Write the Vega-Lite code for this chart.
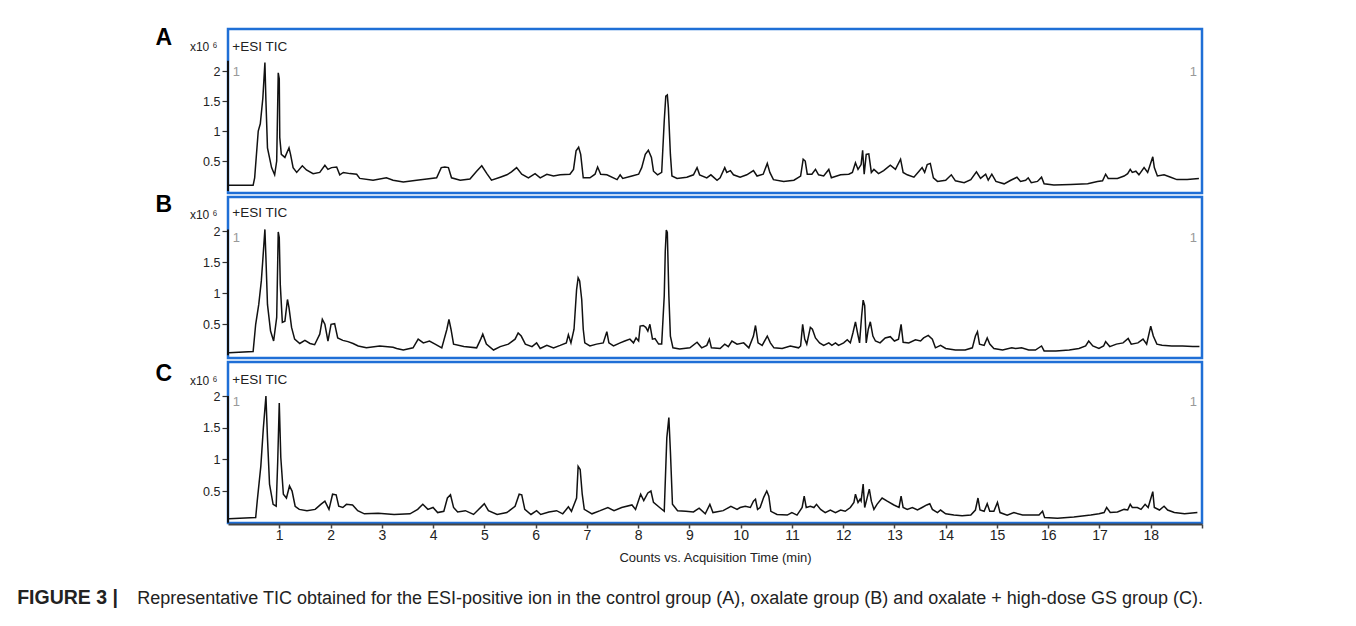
{
"$schema": "https://vega.github.io/schema/vega-lite/v6.json",
"background": "white",
"padding": {"left": 17, "top": 25, "right": 5, "bottom": 5},
"title": {"text": "FIGURE 3 |", "subtitle": "\u200b\u00a0\u00a0\u00a0\u00a0\u00a0\u00a0\u00a0\u00a0\u00a0\u00a0\u00a0\u00a0\u00a0\u00a0\u00a0\u00a0\u00a0\u00a0\u00a0\u00a0\u00a0\u00a0\u00a0\u00a0Representative TIC obtained for the ESI-positive ion in the control group (A), oxalate group (B) and oxalate + high-dose GS group (C).", "orient": "bottom", "anchor": "start", "frame": "bounds", "dx": -137, "font": "Liberation Sans", "fontSize": 19.5, "fontWeight": "bold", "color": "#222", "subtitleFont": "Liberation Sans", "subtitleFontSize": 18, "subtitleColor": "#222", "subtitlePadding": -19, "offset": 24},
"datasets": {
"A": [{"t":0.02,"v":0.095},{"t":0.49,"v":0.095},{"t":0.52,"v":0.22},{"t":0.59,"v":1.0},{"t":0.63,"v":1.12},{"t":0.68,"v":1.55},{"t":0.72,"v":2.14},{"t":0.74,"v":1.5},{"t":0.77,"v":0.72},{"t":0.85,"v":0.39},{"t":0.91,"v":0.27},{"t":0.95,"v":0.5},{"t":0.98,"v":1.97},{"t":1.0,"v":1.87},{"t":1.01,"v":0.89},{"t":1.04,"v":0.61},{"t":1.11,"v":0.56},{"t":1.19,"v":0.72},{"t":1.22,"v":0.61},{"t":1.27,"v":0.39},{"t":1.34,"v":0.31},{"t":1.45,"v":0.42},{"t":1.53,"v":0.35},{"t":1.66,"v":0.29},{"t":1.79,"v":0.31},{"t":1.89,"v":0.43},{"t":1.95,"v":0.36},{"t":2.02,"v":0.39},{"t":2.12,"v":0.4},{"t":2.18,"v":0.27},{"t":2.25,"v":0.31},{"t":2.38,"v":0.29},{"t":2.51,"v":0.28},{"t":2.57,"v":0.21},{"t":2.83,"v":0.18},{"t":3.09,"v":0.22},{"t":3.22,"v":0.18},{"t":3.42,"v":0.15},{"t":3.68,"v":0.18},{"t":3.88,"v":0.2},{"t":4.07,"v":0.22},{"t":4.16,"v":0.39},{"t":4.23,"v":0.4},{"t":4.3,"v":0.39},{"t":4.36,"v":0.22},{"t":4.53,"v":0.18},{"t":4.72,"v":0.2},{"t":4.85,"v":0.33},{"t":4.95,"v":0.42},{"t":5.05,"v":0.29},{"t":5.14,"v":0.18},{"t":5.31,"v":0.23},{"t":5.44,"v":0.27},{"t":5.53,"v":0.32},{"t":5.63,"v":0.39},{"t":5.73,"v":0.28},{"t":5.86,"v":0.22},{"t":5.99,"v":0.29},{"t":6.09,"v":0.22},{"t":6.22,"v":0.28},{"t":6.35,"v":0.25},{"t":6.48,"v":0.27},{"t":6.67,"v":0.28},{"t":6.74,"v":0.36},{"t":6.79,"v":0.67},{"t":6.84,"v":0.73},{"t":6.88,"v":0.61},{"t":6.93,"v":0.22},{"t":7.06,"v":0.22},{"t":7.16,"v":0.28},{"t":7.21,"v":0.4},{"t":7.27,"v":0.28},{"t":7.39,"v":0.27},{"t":7.59,"v":0.19},{"t":7.65,"v":0.27},{"t":7.7,"v":0.21},{"t":7.88,"v":0.25},{"t":8.01,"v":0.28},{"t":8.07,"v":0.39},{"t":8.14,"v":0.61},{"t":8.2,"v":0.68},{"t":8.26,"v":0.56},{"t":8.3,"v":0.33},{"t":8.38,"v":0.27},{"t":8.46,"v":0.31},{"t":8.51,"v":1.17},{"t":8.54,"v":1.58},{"t":8.57,"v":1.6},{"t":8.59,"v":1.39},{"t":8.63,"v":0.61},{"t":8.66,"v":0.25},{"t":8.76,"v":0.21},{"t":8.95,"v":0.23},{"t":9.08,"v":0.27},{"t":9.15,"v":0.39},{"t":9.2,"v":0.27},{"t":9.34,"v":0.22},{"t":9.42,"v":0.27},{"t":9.54,"v":0.18},{"t":9.6,"v":0.22},{"t":9.69,"v":0.39},{"t":9.73,"v":0.31},{"t":9.8,"v":0.34},{"t":9.86,"v":0.27},{"t":9.99,"v":0.23},{"t":10.12,"v":0.27},{"t":10.25,"v":0.34},{"t":10.32,"v":0.25},{"t":10.44,"v":0.28},{"t":10.52,"v":0.46},{"t":10.57,"v":0.31},{"t":10.64,"v":0.19},{"t":10.84,"v":0.16},{"t":11.04,"v":0.18},{"t":11.17,"v":0.25},{"t":11.22,"v":0.53},{"t":11.26,"v":0.5},{"t":11.3,"v":0.28},{"t":11.39,"v":0.28},{"t":11.46,"v":0.36},{"t":11.52,"v":0.27},{"t":11.62,"v":0.25},{"t":11.72,"v":0.36},{"t":11.77,"v":0.22},{"t":11.95,"v":0.27},{"t":12.11,"v":0.28},{"t":12.18,"v":0.31},{"t":12.24,"v":0.47},{"t":12.29,"v":0.36},{"t":12.35,"v":0.44},{"t":12.38,"v":0.68},{"t":12.41,"v":0.28},{"t":12.45,"v":0.61},{"t":12.5,"v":0.62},{"t":12.55,"v":0.31},{"t":12.6,"v":0.36},{"t":12.69,"v":0.29},{"t":12.79,"v":0.34},{"t":12.92,"v":0.43},{"t":13.02,"v":0.36},{"t":13.12,"v":0.53},{"t":13.17,"v":0.31},{"t":13.25,"v":0.27},{"t":13.38,"v":0.23},{"t":13.48,"v":0.33},{"t":13.54,"v":0.39},{"t":13.59,"v":0.31},{"t":13.64,"v":0.44},{"t":13.7,"v":0.46},{"t":13.76,"v":0.22},{"t":13.84,"v":0.16},{"t":14.0,"v":0.18},{"t":14.11,"v":0.27},{"t":14.19,"v":0.17},{"t":14.36,"v":0.14},{"t":14.49,"v":0.19},{"t":14.6,"v":0.32},{"t":14.68,"v":0.21},{"t":14.78,"v":0.28},{"t":14.83,"v":0.18},{"t":14.9,"v":0.28},{"t":14.98,"v":0.16},{"t":15.14,"v":0.12},{"t":15.27,"v":0.18},{"t":15.39,"v":0.23},{"t":15.46,"v":0.16},{"t":15.56,"v":0.18},{"t":15.61,"v":0.22},{"t":15.67,"v":0.14},{"t":15.79,"v":0.16},{"t":15.87,"v":0.23},{"t":15.92,"v":0.12},{"t":16.11,"v":0.1},{"t":16.44,"v":0.11},{"t":16.77,"v":0.12},{"t":16.96,"v":0.16},{"t":17.06,"v":0.17},{"t":17.12,"v":0.28},{"t":17.17,"v":0.21},{"t":17.35,"v":0.21},{"t":17.48,"v":0.25},{"t":17.55,"v":0.29},{"t":17.6,"v":0.36},{"t":17.64,"v":0.31},{"t":17.71,"v":0.33},{"t":17.77,"v":0.27},{"t":17.87,"v":0.39},{"t":17.94,"v":0.31},{"t":18.04,"v":0.57},{"t":18.07,"v":0.39},{"t":18.13,"v":0.25},{"t":18.26,"v":0.27},{"t":18.39,"v":0.23},{"t":18.51,"v":0.19},{"t":18.71,"v":0.19},{"t":18.94,"v":0.21}],
"B": [{"t":0.02,"v":0.04},{"t":0.49,"v":0.06},{"t":0.54,"v":0.5},{"t":0.6,"v":0.82},{"t":0.65,"v":1.2},{"t":0.68,"v":1.55},{"t":0.72,"v":2.03},{"t":0.74,"v":1.57},{"t":0.77,"v":0.82},{"t":0.83,"v":0.39},{"t":0.89,"v":0.23},{"t":0.95,"v":0.61},{"t":0.98,"v":1.99},{"t":1.0,"v":1.9},{"t":1.02,"v":1.14},{"t":1.06,"v":0.53},{"t":1.11,"v":0.55},{"t":1.16,"v":0.9},{"t":1.19,"v":0.77},{"t":1.24,"v":0.45},{"t":1.3,"v":0.26},{"t":1.4,"v":0.19},{"t":1.5,"v":0.24},{"t":1.6,"v":0.19},{"t":1.69,"v":0.17},{"t":1.79,"v":0.34},{"t":1.84,"v":0.58},{"t":1.89,"v":0.5},{"t":1.95,"v":0.23},{"t":2.01,"v":0.5},{"t":2.08,"v":0.51},{"t":2.14,"v":0.28},{"t":2.24,"v":0.24},{"t":2.34,"v":0.22},{"t":2.44,"v":0.19},{"t":2.54,"v":0.15},{"t":2.7,"v":0.12},{"t":2.96,"v":0.15},{"t":3.22,"v":0.13},{"t":3.29,"v":0.11},{"t":3.42,"v":0.085},{"t":3.61,"v":0.12},{"t":3.71,"v":0.26},{"t":3.81,"v":0.2},{"t":3.93,"v":0.23},{"t":4.04,"v":0.18},{"t":4.17,"v":0.12},{"t":4.27,"v":0.42},{"t":4.31,"v":0.58},{"t":4.35,"v":0.42},{"t":4.4,"v":0.18},{"t":4.6,"v":0.14},{"t":4.85,"v":0.12},{"t":4.93,"v":0.26},{"t":4.97,"v":0.34},{"t":5.04,"v":0.18},{"t":5.18,"v":0.085},{"t":5.31,"v":0.14},{"t":5.47,"v":0.18},{"t":5.6,"v":0.26},{"t":5.66,"v":0.36},{"t":5.72,"v":0.31},{"t":5.8,"v":0.18},{"t":5.93,"v":0.14},{"t":6.02,"v":0.2},{"t":6.09,"v":0.11},{"t":6.22,"v":0.16},{"t":6.35,"v":0.12},{"t":6.48,"v":0.16},{"t":6.6,"v":0.2},{"t":6.64,"v":0.33},{"t":6.69,"v":0.2},{"t":6.75,"v":0.42},{"t":6.8,"v":1.06},{"t":6.83,"v":1.25},{"t":6.86,"v":1.2},{"t":6.9,"v":0.9},{"t":6.93,"v":0.42},{"t":6.96,"v":0.2},{"t":7.06,"v":0.15},{"t":7.19,"v":0.18},{"t":7.32,"v":0.2},{"t":7.39,"v":0.38},{"t":7.43,"v":0.2},{"t":7.52,"v":0.15},{"t":7.65,"v":0.2},{"t":7.74,"v":0.23},{"t":7.84,"v":0.26},{"t":7.91,"v":0.2},{"t":7.96,"v":0.28},{"t":8.01,"v":0.23},{"t":8.04,"v":0.47},{"t":8.1,"v":0.48},{"t":8.15,"v":0.45},{"t":8.19,"v":0.39},{"t":8.23,"v":0.5},{"t":8.28,"v":0.26},{"t":8.33,"v":0.27},{"t":8.4,"v":0.18},{"t":8.46,"v":0.18},{"t":8.51,"v":0.96},{"t":8.53,"v":1.68},{"t":8.55,"v":2.02},{"t":8.57,"v":1.98},{"t":8.6,"v":0.96},{"t":8.63,"v":0.31},{"t":8.68,"v":0.12},{"t":8.81,"v":0.1},{"t":9.01,"v":0.12},{"t":9.15,"v":0.21},{"t":9.24,"v":0.12},{"t":9.34,"v":0.16},{"t":9.39,"v":0.26},{"t":9.43,"v":0.12},{"t":9.6,"v":0.11},{"t":9.69,"v":0.18},{"t":9.76,"v":0.14},{"t":9.83,"v":0.23},{"t":9.93,"v":0.18},{"t":10.06,"v":0.2},{"t":10.16,"v":0.12},{"t":10.25,"v":0.31},{"t":10.29,"v":0.48},{"t":10.34,"v":0.2},{"t":10.42,"v":0.16},{"t":10.52,"v":0.31},{"t":10.58,"v":0.2},{"t":10.65,"v":0.12},{"t":10.81,"v":0.11},{"t":10.97,"v":0.15},{"t":11.13,"v":0.12},{"t":11.17,"v":0.15},{"t":11.21,"v":0.5},{"t":11.25,"v":0.26},{"t":11.29,"v":0.18},{"t":11.36,"v":0.45},{"t":11.4,"v":0.42},{"t":11.46,"v":0.28},{"t":11.54,"v":0.2},{"t":11.62,"v":0.16},{"t":11.72,"v":0.2},{"t":11.78,"v":0.16},{"t":11.85,"v":0.2},{"t":11.91,"v":0.16},{"t":12.01,"v":0.2},{"t":12.08,"v":0.25},{"t":12.14,"v":0.2},{"t":12.19,"v":0.36},{"t":12.24,"v":0.54},{"t":12.28,"v":0.36},{"t":12.32,"v":0.2},{"t":12.36,"v":0.63},{"t":12.39,"v":0.89},{"t":12.42,"v":0.8},{"t":12.45,"v":0.2},{"t":12.49,"v":0.42},{"t":12.53,"v":0.54},{"t":12.58,"v":0.31},{"t":12.63,"v":0.23},{"t":12.72,"v":0.2},{"t":12.82,"v":0.28},{"t":12.92,"v":0.3},{"t":13.0,"v":0.23},{"t":13.08,"v":0.26},{"t":13.13,"v":0.5},{"t":13.17,"v":0.21},{"t":13.28,"v":0.2},{"t":13.41,"v":0.25},{"t":13.51,"v":0.23},{"t":13.57,"v":0.28},{"t":13.66,"v":0.32},{"t":13.74,"v":0.26},{"t":13.8,"v":0.12},{"t":13.9,"v":0.16},{"t":14.0,"v":0.11},{"t":14.19,"v":0.085},{"t":14.38,"v":0.085},{"t":14.52,"v":0.12},{"t":14.58,"v":0.31},{"t":14.62,"v":0.38},{"t":14.66,"v":0.18},{"t":14.75,"v":0.16},{"t":14.81,"v":0.28},{"t":14.86,"v":0.18},{"t":14.94,"v":0.11},{"t":15.11,"v":0.085},{"t":15.29,"v":0.12},{"t":15.36,"v":0.11},{"t":15.48,"v":0.12},{"t":15.62,"v":0.085},{"t":15.75,"v":0.085},{"t":15.87,"v":0.15},{"t":15.92,"v":0.07},{"t":16.15,"v":0.07},{"t":16.41,"v":0.085},{"t":16.6,"v":0.11},{"t":16.73,"v":0.15},{"t":16.79,"v":0.23},{"t":16.87,"v":0.15},{"t":16.99,"v":0.11},{"t":17.08,"v":0.15},{"t":17.12,"v":0.22},{"t":17.2,"v":0.14},{"t":17.33,"v":0.18},{"t":17.46,"v":0.2},{"t":17.56,"v":0.27},{"t":17.62,"v":0.18},{"t":17.75,"v":0.2},{"t":17.85,"v":0.26},{"t":17.92,"v":0.18},{"t":18.0,"v":0.47},{"t":18.05,"v":0.31},{"t":18.12,"v":0.18},{"t":18.22,"v":0.16},{"t":18.41,"v":0.15},{"t":18.62,"v":0.15},{"t":18.82,"v":0.14},{"t":18.95,"v":0.14}],
"C": [{"t":0.02,"v":0.063},{"t":0.54,"v":0.08},{"t":0.57,"v":0.34},{"t":0.64,"v":0.89},{"t":0.69,"v":1.5},{"t":0.74,"v":2.0},{"t":0.77,"v":1.34},{"t":0.81,"v":0.61},{"t":0.88,"v":0.29},{"t":0.94,"v":0.26},{"t":0.97,"v":0.97},{"t":1.0,"v":1.89},{"t":1.03,"v":1.03},{"t":1.08,"v":0.45},{"t":1.14,"v":0.39},{"t":1.2,"v":0.58},{"t":1.25,"v":0.5},{"t":1.31,"v":0.26},{"t":1.39,"v":0.21},{"t":1.54,"v":0.19},{"t":1.7,"v":0.21},{"t":1.81,"v":0.29},{"t":1.89,"v":0.34},{"t":1.97,"v":0.21},{"t":2.04,"v":0.45},{"t":2.11,"v":0.44},{"t":2.16,"v":0.26},{"t":2.24,"v":0.24},{"t":2.31,"v":0.29},{"t":2.43,"v":0.28},{"t":2.53,"v":0.19},{"t":2.66,"v":0.14},{"t":2.93,"v":0.15},{"t":3.24,"v":0.13},{"t":3.55,"v":0.14},{"t":3.7,"v":0.21},{"t":3.8,"v":0.29},{"t":3.9,"v":0.21},{"t":4.0,"v":0.24},{"t":4.09,"v":0.16},{"t":4.21,"v":0.18},{"t":4.28,"v":0.39},{"t":4.34,"v":0.44},{"t":4.4,"v":0.24},{"t":4.48,"v":0.17},{"t":4.63,"v":0.19},{"t":4.79,"v":0.13},{"t":4.94,"v":0.25},{"t":5.0,"v":0.3},{"t":5.08,"v":0.19},{"t":5.25,"v":0.13},{"t":5.44,"v":0.16},{"t":5.6,"v":0.26},{"t":5.68,"v":0.45},{"t":5.73,"v":0.44},{"t":5.79,"v":0.21},{"t":5.91,"v":0.13},{"t":6.02,"v":0.19},{"t":6.1,"v":0.13},{"t":6.26,"v":0.17},{"t":6.41,"v":0.19},{"t":6.53,"v":0.14},{"t":6.64,"v":0.25},{"t":6.7,"v":0.18},{"t":6.8,"v":0.39},{"t":6.83,"v":0.89},{"t":6.87,"v":0.84},{"t":6.91,"v":0.45},{"t":6.95,"v":0.21},{"t":7.1,"v":0.14},{"t":7.26,"v":0.19},{"t":7.41,"v":0.24},{"t":7.53,"v":0.19},{"t":7.68,"v":0.24},{"t":7.88,"v":0.28},{"t":7.95,"v":0.21},{"t":8.05,"v":0.45},{"t":8.11,"v":0.35},{"t":8.19,"v":0.47},{"t":8.25,"v":0.5},{"t":8.3,"v":0.32},{"t":8.42,"v":0.24},{"t":8.51,"v":0.18},{"t":8.56,"v":1.34},{"t":8.6,"v":1.66},{"t":8.63,"v":1.13},{"t":8.67,"v":0.29},{"t":8.77,"v":0.19},{"t":8.93,"v":0.18},{"t":9.08,"v":0.17},{"t":9.19,"v":0.23},{"t":9.31,"v":0.14},{"t":9.4,"v":0.29},{"t":9.46,"v":0.16},{"t":9.66,"v":0.19},{"t":9.81,"v":0.26},{"t":9.93,"v":0.21},{"t":9.99,"v":0.24},{"t":10.09,"v":0.26},{"t":10.19,"v":0.24},{"t":10.25,"v":0.34},{"t":10.29,"v":0.37},{"t":10.33,"v":0.21},{"t":10.38,"v":0.24},{"t":10.45,"v":0.4},{"t":10.51,"v":0.5},{"t":10.55,"v":0.42},{"t":10.59,"v":0.18},{"t":10.71,"v":0.13},{"t":10.91,"v":0.12},{"t":11.0,"v":0.16},{"t":11.1,"v":0.12},{"t":11.2,"v":0.24},{"t":11.24,"v":0.42},{"t":11.28,"v":0.24},{"t":11.36,"v":0.26},{"t":11.43,"v":0.24},{"t":11.48,"v":0.29},{"t":11.56,"v":0.21},{"t":11.65,"v":0.16},{"t":11.75,"v":0.2},{"t":11.85,"v":0.16},{"t":11.95,"v":0.2},{"t":12.04,"v":0.18},{"t":12.14,"v":0.24},{"t":12.21,"v":0.32},{"t":12.24,"v":0.45},{"t":12.29,"v":0.32},{"t":12.33,"v":0.37},{"t":12.35,"v":0.34},{"t":12.39,"v":0.61},{"t":12.42,"v":0.24},{"t":12.47,"v":0.4},{"t":12.51,"v":0.53},{"t":12.55,"v":0.34},{"t":12.6,"v":0.21},{"t":12.66,"v":0.29},{"t":12.76,"v":0.39},{"t":12.86,"v":0.34},{"t":12.99,"v":0.28},{"t":13.09,"v":0.24},{"t":13.13,"v":0.42},{"t":13.17,"v":0.24},{"t":13.25,"v":0.21},{"t":13.35,"v":0.24},{"t":13.45,"v":0.2},{"t":13.54,"v":0.24},{"t":13.63,"v":0.28},{"t":13.69,"v":0.3},{"t":13.74,"v":0.21},{"t":13.84,"v":0.16},{"t":13.9,"v":0.2},{"t":14.0,"v":0.14},{"t":14.16,"v":0.12},{"t":14.32,"v":0.11},{"t":14.49,"v":0.12},{"t":14.58,"v":0.2},{"t":14.63,"v":0.39},{"t":14.67,"v":0.2},{"t":14.75,"v":0.18},{"t":14.81,"v":0.3},{"t":14.86,"v":0.18},{"t":14.94,"v":0.18},{"t":15.01,"v":0.32},{"t":15.06,"v":0.16},{"t":15.2,"v":0.12},{"t":15.33,"v":0.16},{"t":15.5,"v":0.12},{"t":15.66,"v":0.12},{"t":15.82,"v":0.12},{"t":15.89,"v":0.18},{"t":15.93,"v":0.08},{"t":16.18,"v":0.07},{"t":16.5,"v":0.09},{"t":16.83,"v":0.12},{"t":16.99,"v":0.14},{"t":17.09,"v":0.16},{"t":17.14,"v":0.24},{"t":17.21,"v":0.16},{"t":17.35,"v":0.17},{"t":17.48,"v":0.21},{"t":17.55,"v":0.2},{"t":17.6,"v":0.29},{"t":17.64,"v":0.24},{"t":17.74,"v":0.24},{"t":17.81,"v":0.21},{"t":17.89,"v":0.29},{"t":17.95,"v":0.24},{"t":18.04,"v":0.49},{"t":18.07,"v":0.24},{"t":18.17,"v":0.2},{"t":18.26,"v":0.26},{"t":18.33,"v":0.2},{"t":18.46,"v":0.16},{"t":18.66,"v":0.14},{"t":18.91,"v":0.16}]
},
"spacing": 4,
"bounds": "flush",
"resolve": {"scale": {"x": "independent", "y": "independent"}},
"vconcat": [
{"width": 974, "height": 164,
 "layer": [
  {"data": {"name": "A"}, "mark": {"type": "line", "color": "#111", "strokeWidth": 1.5},
   "encoding": {
    "x": {"field": "t", "type": "quantitative", "scale": {"domain": [0, 19], "nice": false, "zero": false}, "axis": null},
    "y": {"field": "v", "type": "quantitative", "scale": {"domain": [-0.033, 2.7], "nice": false, "zero": false},
      "axis": {"values": [0.5, 1, 1.5, 2], "format": "~g", "title": "x10 \u2076", "titleAngle": 0, "titleAlign": "right", "titleBaseline": "middle", "titleX": -11, "titleY": 17.5, "titleFont": "Liberation Sans", "titleFontSize": 12, "titleFontWeight": "normal", "titleColor": "#222", "domain": false, "grid": false, "tickSize": 6, "tickColor": "#333", "tickWidth": 1.2, "labelFont": "Liberation Sans", "labelFontSize": 12.5, "labelColor": "#222", "labelPadding": 2}}}},
  {"data": {"values": [{}]}, "mark": {"type": "rule", "color": "#111", "strokeWidth": 2}, "encoding": {"x": {"datum": 0}, "y": {"datum": 0.0}, "y2": {"datum": 2.17}}},
  {"data": {"values": [{}]}, "mark": {"type": "text", "font": "Liberation Sans", "fontWeight": "bold", "fontSize": 23, "align": "center", "baseline": "middle", "color": "#000"}, "encoding": {"x": {"datum": -1.254}, "y": {"datum": 2.555}, "text": {"value": "A"}}},
  {"data": {"values": [{}]}, "mark": {"type": "text", "font": "Liberation Sans", "fontSize": 13.5, "align": "left", "baseline": "middle", "color": "#222"}, "encoding": {"x": {"datum": 0.085}, "y": {"datum": 2.405}, "text": {"value": "+ESI TIC"}}},
  {"data": {"values": [{}]}, "mark": {"type": "text", "font": "Liberation Sans", "fontSize": 13, "align": "center", "baseline": "middle", "color": "#999"}, "encoding": {"x": {"datum": 0.164}, "y": {"datum": 1.99}, "text": {"value": "1"}}},
  {"data": {"values": [{}]}, "mark": {"type": "text", "font": "Liberation Sans", "fontSize": 13, "align": "center", "baseline": "middle", "color": "#999"}, "encoding": {"x": {"datum": 18.83}, "y": {"datum": 1.99}, "text": {"value": "1"}}}
 ]},
{"width": 974, "height": 161,
 "layer": [
  {"data": {"name": "B"}, "mark": {"type": "line", "color": "#111", "strokeWidth": 1.5},
   "encoding": {
    "x": {"field": "t", "type": "quantitative", "scale": {"domain": [0, 19], "nice": false, "zero": false}, "axis": null},
    "y": {"field": "v", "type": "quantitative", "scale": {"domain": [-0.044, 2.553], "nice": false, "zero": false},
      "axis": {"values": [0.5, 1, 1.5, 2], "format": "~g", "title": "x10 \u2076", "titleAngle": 0, "titleAlign": "right", "titleBaseline": "middle", "titleX": -11, "titleY": 17.7, "titleFont": "Liberation Sans", "titleFontSize": 12, "titleFontWeight": "normal", "titleColor": "#222", "domain": false, "grid": false, "tickSize": 6, "tickColor": "#333", "tickWidth": 1.2, "labelFont": "Liberation Sans", "labelFontSize": 12.5, "labelColor": "#222", "labelPadding": 2}}}},
  {"data": {"values": [{}]}, "mark": {"type": "rule", "color": "#111", "strokeWidth": 2}, "encoding": {"x": {"datum": 0}, "y": {"datum": 0.0}, "y2": {"datum": 2.03}}},
  {"data": {"values": [{}]}, "mark": {"type": "text", "font": "Liberation Sans", "fontWeight": "bold", "fontSize": 23, "align": "center", "baseline": "middle", "color": "#000"}, "encoding": {"x": {"datum": -1.254}, "y": {"datum": 2.424}, "text": {"value": "B"}}},
  {"data": {"values": [{}]}, "mark": {"type": "text", "font": "Liberation Sans", "fontSize": 13.5, "align": "left", "baseline": "middle", "color": "#222"}, "encoding": {"x": {"datum": 0.085}, "y": {"datum": 2.287}, "text": {"value": "+ESI TIC"}}},
  {"data": {"values": [{}]}, "mark": {"type": "text", "font": "Liberation Sans", "fontSize": 13, "align": "center", "baseline": "middle", "color": "#999"}, "encoding": {"x": {"datum": 0.164}, "y": {"datum": 1.89}, "text": {"value": "1"}}},
  {"data": {"values": [{}]}, "mark": {"type": "text", "font": "Liberation Sans", "fontSize": 13, "align": "center", "baseline": "middle", "color": "#999"}, "encoding": {"x": {"datum": 18.83}, "y": {"datum": 1.89}, "text": {"value": "1"}}}
 ]},
{"width": 974, "height": 161,
 "layer": [
  {"data": {"name": "C"}, "mark": {"type": "line", "color": "#111", "strokeWidth": 1.5},
   "encoding": {
    "x": {"field": "t", "type": "quantitative", "scale": {"domain": [0, 19], "nice": false, "zero": false},
      "axis": {"values": [1,2,3,4,5,6,7,8,9,10,11,12,13,14,15,16,17,18,19], "format": "d", "labelExpr": "datum.value == 19 ? '' : datum.label", "title": "Counts vs. Acquisition Time (min)", "titleFont": "Liberation Sans", "titleFontSize": 13, "titleFontWeight": "normal", "titleColor": "#222", "titlePadding": 9, "offset": 1, "grid": false, "domainColor": "#444", "domainWidth": 2, "tickColor": "#444", "tickWidth": 1.5, "tickSize": 4, "labelFont": "Liberation Sans Narrow, Liberation Sans", "labelFontSize": 14, "labelColor": "#222", "labelPadding": 0}},
    "y": {"field": "v", "type": "quantitative", "scale": {"domain": [-0.005, 2.539], "nice": false, "zero": false},
      "axis": {"values": [0.5, 1, 1.5, 2], "format": "~g", "title": "x10 \u2076", "titleAngle": 0, "titleAlign": "right", "titleBaseline": "middle", "titleX": -11, "titleY": 18.5, "titleFont": "Liberation Sans", "titleFontSize": 12, "titleFontWeight": "normal", "titleColor": "#222", "domain": false, "grid": false, "tickSize": 6, "tickColor": "#333", "tickWidth": 1.2, "labelFont": "Liberation Sans", "labelFontSize": 12.5, "labelColor": "#222", "labelPadding": 2}}}},
  {"data": {"values": [{}]}, "mark": {"type": "rule", "color": "#111", "strokeWidth": 2}, "encoding": {"x": {"datum": 0}, "y": {"datum": 0.0}, "y2": {"datum": 2.0}}},
  {"data": {"values": [{}]}, "mark": {"type": "text", "font": "Liberation Sans", "fontWeight": "bold", "fontSize": 23, "align": "center", "baseline": "middle", "color": "#000"}, "encoding": {"x": {"datum": -1.254}, "y": {"datum": 2.357}, "text": {"value": "C"}}},
  {"data": {"values": [{}]}, "mark": {"type": "text", "font": "Liberation Sans", "fontSize": 13.5, "align": "left", "baseline": "middle", "color": "#222"}, "encoding": {"x": {"datum": 0.085}, "y": {"datum": 2.254}, "text": {"value": "+ESI TIC"}}},
  {"data": {"values": [{}]}, "mark": {"type": "text", "font": "Liberation Sans", "fontSize": 13, "align": "center", "baseline": "middle", "color": "#999"}, "encoding": {"x": {"datum": 0.164}, "y": {"datum": 1.9}, "text": {"value": "1"}}},
  {"data": {"values": [{}]}, "mark": {"type": "text", "font": "Liberation Sans", "fontSize": 13, "align": "center", "baseline": "middle", "color": "#999"}, "encoding": {"x": {"datum": 18.83}, "y": {"datum": 1.9}, "text": {"value": "1"}}}
 ]}
],
"config": {"view": {"stroke": "#1f6fd6", "strokeWidth": 2.5}, "font": "Liberation Sans"}
}
